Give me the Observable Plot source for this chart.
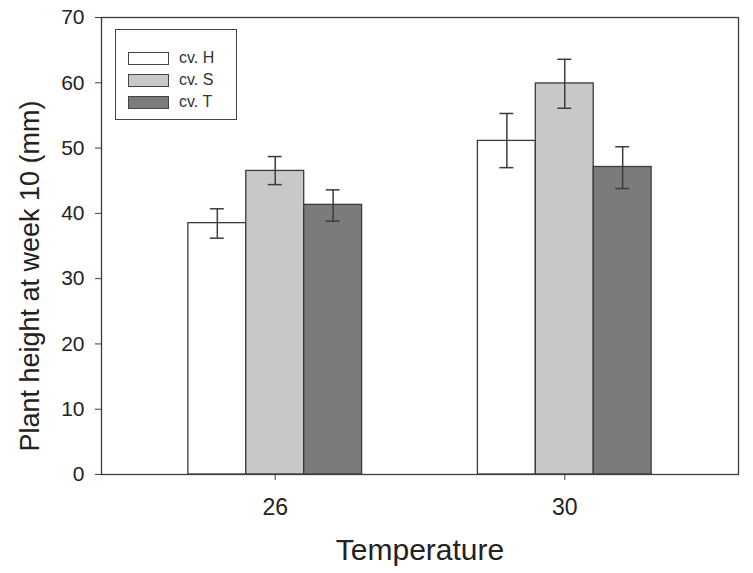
<!DOCTYPE html>
<html>
<head>
<meta charset="utf-8">
<script src="https://cdn.jsdelivr.net/npm/d3@7"></script>
<script src="https://cdn.jsdelivr.net/npm/@observablehq/plot@0.6"></script>
<style>
  html, body { margin: 0; padding: 0; background: #fff; }
  #wrap { position: relative; width: 753px; height: 573px; font-family: "Liberation Sans", Arial, sans-serif; }
  #legend { position: absolute; left: 115px; top: 29px; width: 122px; height: 91px; border: 1.3px solid #444; box-sizing: border-box; background: #fff; padding-top: 17px; }
  .item { display: flex; align-items: center; height: 22px; margin-left: 12px; }
  .sw { width: 41px; height: 13px; border: 1.3px solid #444; box-sizing: border-box; margin-right: 10px; }
  .lab { font-size: 16px; color: #333; }
</style>
</head>
<body>
<div id="wrap"></div>
<script>
const temperatures = ["26", "30"];
const cultivars = ["H", "S", "T"];
const cultivarLabels = ["cv. H", "cv. S", "cv. T"];
const colors = ["#ffffff", "#c8c8c8", "#7b7b7b"];
// values per temperature, in cultivar order H, S, T
const means26 = [38.5, 46.5, 41.3];
const means30 = [51.1, 59.9, 47.1];
const upper26 = [40.7, 48.7, 43.6];
const lower26 = [36.2, 44.4, 38.8];
const upper30 = [55.3, 63.6, 50.2];
const lower30 = [47.0, 56.1, 43.8];
const yTicks = [0, 10, 20, 30, 40, 50, 60, 70];
const yLabel = "Plant height at week 10 (mm)";
const xLabel = "Temperature";

const means = [means26, means30], uppers = [upper26, upper30], lowers = [lower26, lower30];
const data = [];
temperatures.forEach((t, i) => cultivars.forEach((c, j) => {
  data.push({key: t + "|" + c, temp: t, cv: c, mean: means[i][j], hi: uppers[i][j], lo: lowers[i][j]});
}));
// band domain: the three cultivar bars of each temperature, with two empty bands between groups
const xDomain = [
  ...cultivars.map(c => temperatures[0] + "|" + c),
  "gap1", "gap2",
  ...cultivars.map(c => temperatures[1] + "|" + c)
];

const ink = "#3c3c3c";
const chart = Plot.plot({
  width: 753, height: 573,
  marginLeft: 101, marginRight: 15, marginTop: 17, marginBottom: 99,
  style: {fontFamily: "Liberation Sans, Arial, sans-serif", background: "#fff", color: "#222"},
  x: {domain: xDomain, paddingInner: 0, paddingOuter: 1.5, round: false},
  y: {domain: [0, 70]},
  color: {domain: cultivars, range: colors},
  marks: [
    Plot.barY(data, {x: "key", y: "mean", fill: "cv", stroke: ink, strokeWidth: 1.3}),
    Plot.ruleX(data, {x: "key", y1: "lo", y2: "hi", stroke: ink, strokeWidth: 1.5}),
    Plot.tickY(data, {x: "key", y: "hi", stroke: ink, strokeWidth: 1.5, insetLeft: 22, insetRight: 22}),
    Plot.tickY(data, {x: "key", y: "lo", stroke: ink, strokeWidth: 1.5, insetLeft: 22, insetRight: 22}),
    Plot.frame({stroke: ink, strokeWidth: 1.3}),
    Plot.axisY({ticks: yTicks, tickSize: 6, tickPadding: 11, fontSize: 21, label: null, stroke: ink, fill: "#222"}),
    Plot.text([yLabel], {text: d => d, frameAnchor: "left", rotate: -90, dx: -71, dy: 30, fontSize: 27, fill: "#222", textAnchor: "middle", lineAnchor: "middle"}),
    Plot.axisX({ticks: temperatures.map(t => t + "|S"), tickFormat: d => d.split("|")[0], tickSize: 6, tickPadding: 18, fontSize: 23, label: null, stroke: ink, fill: "#222"}),
    Plot.axisX({ticks: [], tickSize: 0, label: xLabel, labelAnchor: "center", labelArrow: "none", labelOffset: 85, fontSize: 30, fill: "#222"})
  ]
});
const wrap = document.getElementById("wrap");
wrap.appendChild(chart);

const legend = document.createElement("div");
legend.id = "legend";
cultivars.forEach((c, i) => {
  const item = document.createElement("div");
  item.className = "item";
  const sw = document.createElement("div");
  sw.className = "sw";
  sw.style.background = colors[i];
  const lab = document.createElement("span");
  lab.className = "lab";
  lab.textContent = cultivarLabels[i];
  item.appendChild(sw); item.appendChild(lab);
  legend.appendChild(item);
});
wrap.appendChild(legend);
</script>
</body>
</html>
